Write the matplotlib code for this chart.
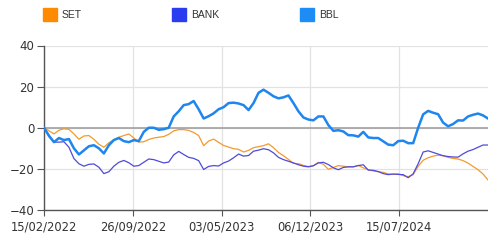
import matplotlib
matplotlib.use("Agg")
import matplotlib.pyplot as plt
from matplotlib.patches import Rectangle
import numpy as np

# % change vs. start, sampled at regular steps along the trading-day axis
set_idx = [0, -1.5, -3, -1.2, -0.5, -0.8, -3, -5.6, -4, -3.8, -5.6, -8, -9.5, -7.3, -5.8, -4.6, -3.8, -3,
           -5, -7, -6.8, -5.7, -5, -4.6, -4.3, -3.2, -1.5, -0.9, -0.9, -1.3, -2.3, -3.8, -8.7, -6.5, -5.5,
           -7.1, -8.6, -9.4, -10.2, -10.5, -11.8, -11, -9.7, -9.2, -8.7, -7.8, -9.7, -12, -13.6, -15.4,
           -17.3, -17.5, -18.3, -18.9, -18.4, -16.8, -17.8, -20.2, -19.3, -18.4, -18.7, -19, -19, -18.3,
           -19.5, -20.4, -21, -21.4, -21.7, -22.5, -22.7, -22.4, -23.3, -23.8, -22.8, -18.8, -15.8, -14.6,
           -13.8, -13.3, -13.6, -14.4, -14.9, -15.2, -16, -17.2, -18.8, -20.4, -22.5, -25.4]
bank = [0, -3.5, -7, -7, -6.8, -9.5, -15, -17.5, -18.7, -17.8, -17.6, -19.2, -22.3, -21.4, -18.7, -16.8,
        -15.9, -17, -18.7, -18.4, -16.8, -15.2, -15.5, -16.3, -17.1, -16.7, -13.2, -11.5, -13, -14.4, -14.9,
        -16, -20.3, -18.8, -18.4, -18.6, -17.1, -16.2, -14.6, -12.8, -13.8, -13.5, -11.4, -10.9, -10.2,
        -10.7, -12.2, -14.4, -15.5, -16.3, -17.1, -18, -18.7, -19, -18.5, -17.1, -16.8, -17.9, -19.5, -20.4,
        -19.3, -19, -19, -18.4, -18, -20.6, -20.7, -21.3, -22.3, -22.8, -22.5, -22.7, -22.8, -24.3, -22.4,
        -17.5, -11.8, -11.2, -12, -12.8, -13.6, -14, -14.2, -14.3, -12.7, -11.4, -10.6, -9.5, -8.4, -8.4]
bbl = [0, -4, -7, -5, -6, -5.5, -10, -13, -11, -9, -8.5, -10, -12.5, -8.5, -6, -5, -6.5, -7, -6, -6.5,
       -2, 0, 0, -1, -0.7, 0, 5.5, 8, 11, 11.5, 13, 9, 4.5, 5.6, 7, 9, 10, 12, 12.2, 11.8, 11, 8.6, 12, 17,
       18.5, 17, 15.3, 14.3, 14.8, 15.7, 12, 8, 5, 4, 3.6, 5.5, 5.5, 1.3, -1.5, -1.2, -1.8, -3.6, -3.7,
       -4.3, -2, -4.7, -5, -5, -6.6, -8.2, -8.5, -6.5, -6.3, -7.5, -7.5, 0, 6.5, 8.2, 7.3, 6.6, 2.5, 0.7,
       1.8, 3.6, 3.5, 5.5, 6.3, 6.9, 6, 4.5]

tick_labels = ["15/02/2022", "26/09/2022", "03/05/2023", "06/12/2023", "15/07/2024"]
series_names = ["SET", "BANK", "BBL"]
colors = ["#f39a2e", "#4f4ada", "#1e86ee"]
legend_colors = ["#ff8a00", "#2a3cf0", "#1e8cf5"]

plt.rcParams["font.family"] = ["DejaVu Sans"]

fig = plt.figure(figsize=(4.88, 2.41), dpi=100)
ax = fig.add_axes([44 / 488, 31 / 241, 444 / 488, 164.5 / 241])

x = np.arange(len(bbl))
ax.plot(x, set_idx, color=colors[0], lw=0.9, zorder=3)
ax.plot(x, bank, color=colors[1], lw=0.9, zorder=4)
ax.plot(x, bbl, color=colors[2], lw=1.8, zorder=5)

step = (len(bbl) - 1) / 5
ax.set_xlim(0, len(bbl) - 1)
ax.set_ylim(-40, 40)
ax.set_yticks([-40, -20, 0, 20, 40])
ax.set_xticks([i * step for i in range(len(tick_labels))])
ax.set_xticklabels(tick_labels)

ax.grid(True, color="#e2e2e2", lw=0.9)
ax.axhline(0, color="#a0a0a0", lw=1.2, zorder=2)
ax.set_axisbelow(True)
for side in ("top", "right"):
    ax.spines[side].set_visible(False)
for side in ("left", "bottom"):
    ax.spines[side].set_color("#555555")
    ax.spines[side].set_linewidth(1.0)
ax.tick_params(axis="y", length=5, color="#555555", labelsize=8.5, labelcolor="#333333", pad=2)
ax.tick_params(axis="x", length=4, color="#555555", labelsize=8.3, labelcolor="#333333", pad=3.5)

# legend row across the top
legend_x = [43, 172, 300]
for name, col, lx in zip(series_names, legend_colors, legend_x):
    fig.add_artist(Rectangle((lx / 488, 1 - 21 / 241), 14 / 488, 13 / 241,
                             transform=fig.transFigure, color=col))
    fig.text((lx + 19) / 488, 1 - 15 / 241, name, fontsize=7.5, color="#333333",
             family=["Liberation Sans", "DejaVu Sans"], va="center", ha="left")

fig.savefig("out.png", dpi=100)
